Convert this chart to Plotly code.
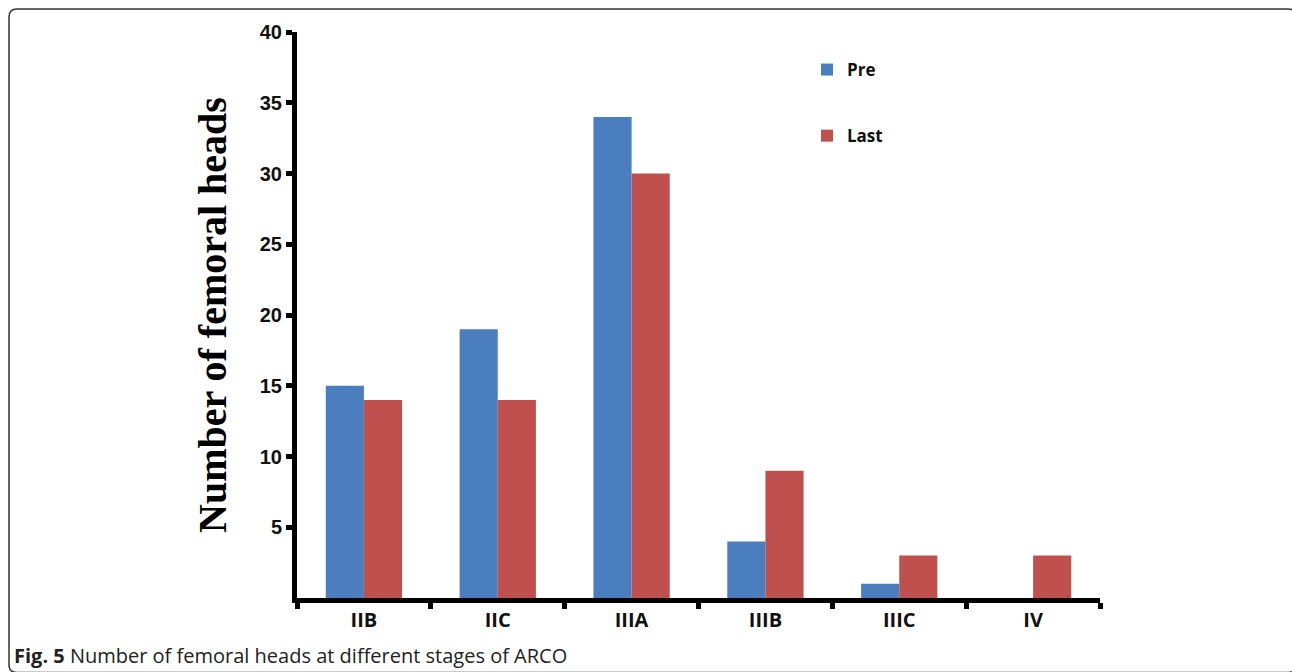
import plotly.graph_objects as go

# ---- data ----
stages = ["IIB", "IIC", "IIIA", "IIIB", "IIIC", "IV"]
pre_values = [15, 19, 34, 4, 1, 0]
last_values = [14, 14, 30, 9, 3, 3]
y_tick_values = [5, 10, 15, 20, 25, 30, 35, 40]
y_tick_labels = ["5", "10", "15", "20", "25", "30", "35", "40"]
y_title = "Number of femoral heads"
caption_bold = "Fig. 5"
caption_rest = " Number of femoral heads at different stages of ARCO"

# ---- layout geometry (screen pixels) ----
W, H = 1292, 672
L, R, T, B = 297, 1100, 32, 598  # plot area edges


def px(xp):
    return (xp - L) / (R - L)


def py(yp):
    return (B - yp) / (B - T)


blue = "#4a7ebf"
red = "#c0504d"

fig = go.Figure()
fig.add_trace(go.Bar(
    x=stages, y=pre_values, name="Pre", legendgroup="pre",
    marker=dict(color=blue, line=dict(width=0)),
))
fig.add_trace(go.Bar(
    x=stages, y=last_values, name="Last", legendgroup="last",
    marker=dict(color=red, line=dict(width=0)),
))

# rounded outer frame (partly cut off at right/bottom like the reference)
x0, x1, y0, y1, r = 9, 1296, 9, 672.5, 8
path = (
    f"M {px(x0 + r)},{py(y0)} L {px(x1 - r)},{py(y0)} "
    f"Q {px(x1)},{py(y0)} {px(x1)},{py(y0 + r)} "
    f"L {px(x1)},{py(y1 - r)} Q {px(x1)},{py(y1)} {px(x1 - r)},{py(y1)} "
    f"L {px(x0 + r)},{py(y1)} Q {px(x0)},{py(y1)} {px(x0)},{py(y1 - r)} "
    f"L {px(x0)},{py(y0 + r)} Q {px(x0)},{py(y0)} {px(x0 + r)},{py(y0)} Z"
)
fig.add_shape(type="path", path=path, xref="paper", yref="paper",
              line=dict(color="#333333", width=1.5), layer="below")

fig.add_annotation(
    xref="paper", yref="paper", x=px(12), y=py(655),
    xanchor="left", yanchor="middle", showarrow=False,
    text=f"<b>{caption_bold}</b>{caption_rest}",
    font=dict(family="Open Sans", size=20, color="#222222"),
)

fig.update_layout(
    width=W, height=H,
    margin=dict(l=L, r=W - R, t=T, b=H - B, autoexpand=False),
    paper_bgcolor="white", plot_bgcolor="white",
    barmode="group", bargap=0.43, bargroupgap=0,
    showlegend=True,
    legend=dict(
        x=px(807), y=py(52), xanchor="left", yanchor="top",
        font=dict(family="Open Sans", size=17, color="#111111", weight="bold"),
        tracegroupgap=41, bgcolor="rgba(0,0,0,0)",
    ),
    xaxis=dict(
        type="category", showgrid=False, zeroline=False,
        showline=True, linecolor="black", linewidth=5,
        ticks="outside", tickson="boundaries", ticklen=6, tickwidth=5,
        tickcolor="black",
        tickfont=dict(family="Open Sans", size=20, color="#111111", weight="bold"),
    ),
    yaxis=dict(
        range=[0, 40], showgrid=False, zeroline=False,
        showline=True, linecolor="black", linewidth=5,
        ticks="outside", ticklen=6, tickwidth=5, tickcolor="black",
        tickvals=y_tick_values, ticktext=y_tick_labels,
        tickfont=dict(family="Liberation Sans", size=20, color="#111111", weight="bold"),
        title=dict(text=y_title, standoff=22,
                   font=dict(family="Liberation Serif", size=40, color="black", weight="bold")),
    ),
)

fig.write_html(
    "out.html",
    config={"displayModeBar": False},
    post_script="document.body.style.margin='0';document.body.style.overflow='hidden';",
)
